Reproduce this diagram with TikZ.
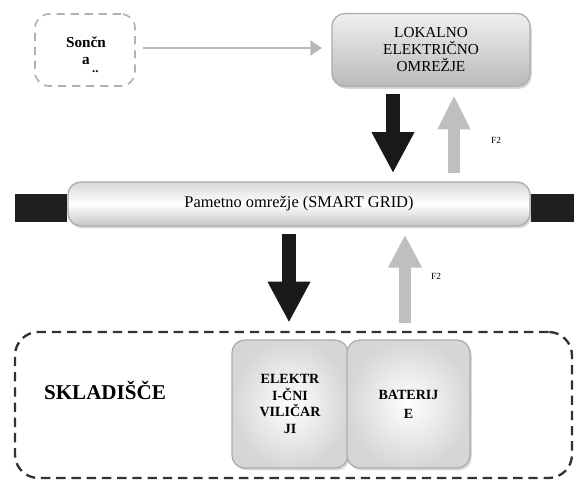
\documentclass[tikz,border=0pt]{standalone}
\usepackage{fontspec}
\setmainfont{Liberation Serif}
\usetikzlibrary{arrows.meta, positioning, shadows}

\begin{document}
\begin{tikzpicture}[x=0.03cm, y=-0.03cm]
\tikzset{
  blok/.style={rounded corners=11pt, draw=gray!65, line width=1.1pt, align=center, inner sep=0pt,
    drop shadow={shadow xshift=1.5pt, shadow yshift=-2pt, opacity=.3}},
  thin/.style={draw=gray!55, line width=1.7pt, -{Triangle[length=10pt, width=13pt]}},
  fatblack/.style={draw=black!90, line width=#1, -{Triangle[length=35pt, width=34pt]}},
  fatgrey/.style={draw=gray!50, line width=#1, -{Triangle[length=28pt, width=27pt]}},
  bar/.style={draw=black!88, line width=24pt},
  f2/.style={font=\fontsize{8}{9}\selectfont}
}
\useasboundingbox (0,0) rectangle (574,482);

% containers
\node[draw=black!80, line width=2pt, dash pattern=on 8pt off 5pt, rounded corners=20pt,
  minimum width=16.71cm, minimum height=4.38cm] (sklad) at (293.5,405) {};
\node[font=\bfseries\fontsize{18}{20}\selectfont] (skl) at (105,390) {SKLADIŠČE};

\node[draw=gray!60, line width=1.4pt, dash pattern=on 7pt off 5pt, rounded corners=12pt,
  minimum width=3cm, minimum height=2.16cm] (sun) at (85,50) {};
\node[font=\bfseries\fontsize{13}{14}\selectfont, align=center] (sunlbl) at (86,55)
  {Sončn\\a\\[-7pt]\hspace*{16pt}\fontsize{11}{11}\selectfont..};

\node[blok, top color=gray!12, bottom color=gray!55, minimum width=5.94cm, minimum height=2.19cm,
  font=\fontsize{13}{14.5}\selectfont] (lok) at (431,50) {LOKALNO\\ELEKTRIČNO\\OMREŽJE};

\node[blok, top color=gray!30, bottom color=gray!45, middle color=white, minimum width=13.86cm,
  minimum height=1.32cm, font=\fontsize{14}{16}\selectfont] (grid) at (299,204) {Pametno omrežje (SMART GRID)};

\node[blok, shading=radial, inner color=white, outer color=gray!32, minimum width=3.48cm,
  minimum height=3.84cm, font=\bfseries\fontsize{12}{14}\selectfont] (vil) at (290,404)
  {ELEKTR\\I-ČNI\\VILIČAR\\JI};
\node[blok, shading=radial, inner color=white, outer color=gray!32, minimum width=3.69cm,
  minimum height=3.84cm, font=\bfseries\fontsize{12}{16}\selectfont] (bat) at (408.5,404)
  {BATERIJ\\E};

% bar
\coordinate (barL) at (15,208);
\coordinate (barR) at (574,208);
\draw[bar] (barL) -- (grid.west |- barL);
\draw[bar] (grid.east |- barR) -- (barR);

% arrows
\coordinate (x1) at (393,0);
\coordinate (x2) at (454,0);
\coordinate (x3) at (289,0);
\coordinate (x4) at (405,0);

\draw[thin, shorten <=6pt, shorten >=8pt] (sun.east |- 0,48) -- (lok.west |- 0,48);
\draw[fatblack=12.5pt, shorten <=6pt, shorten >=7pt] (lok.south -| x1) -- (grid.north -| x1);
\draw[fatgrey=10.5pt, -{Triangle[length=29pt, width=26pt]}, shorten <=7pt, shorten >=7pt] (grid.north -| x2) -- (lok.south -| x2);
\draw[fatblack=11.5pt, shorten <=6pt, shorten >=7pt] (grid.south -| x3) -- (sklad.north -| x3);
\draw[fatgrey=10.5pt, shorten <=7pt, shorten >=7pt] (sklad.north -| x4) -- (grid.south -| x4);

\node[f2] (f2a) at (496,140) {F2};
\node[f2] (f2b) at (436,276) {F2};
\end{tikzpicture}
\end{document}
